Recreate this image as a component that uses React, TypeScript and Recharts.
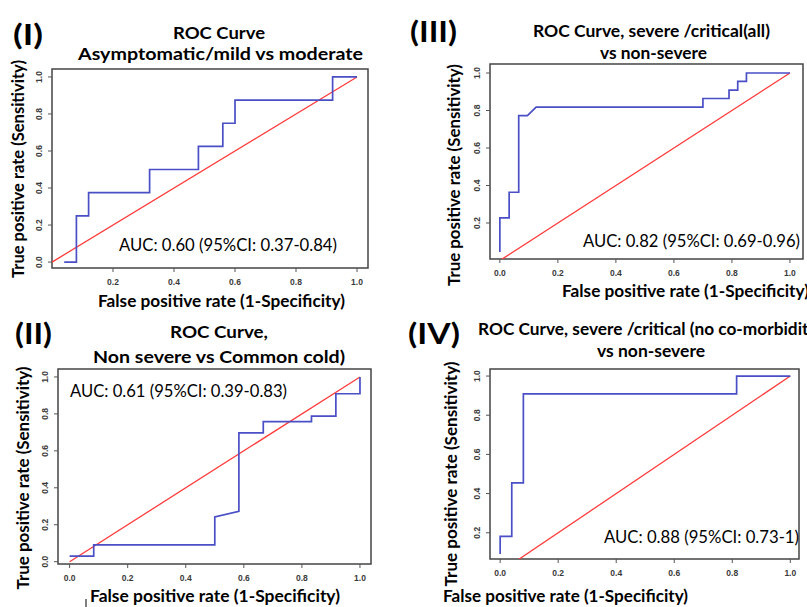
import React from 'react'
import { LineChart, Line, XAxis, YAxis, ReferenceArea } from 'recharts'

// tick labels
const fullTicks = [0, 0.2, 0.4, 0.6, 0.8, 1.0]
const upperTicks = [0.2, 0.4, 0.6, 0.8, 1.0]

// chance diagonal (abline 0,1)
const chanceFpr = [0, 1]
const chanceTpr = [0, 1]

// (I) Asymptomatic/mild vs moderate
const fprI = [0.04, 0.08, 0.08, 0.12, 0.12, 0.32, 0.32, 0.48, 0.48, 0.56, 0.56, 0.6, 0.6, 0.92, 0.92, 1.0]
const tprI = [0, 0, 0.25, 0.25, 0.375, 0.375, 0.5, 0.5, 0.625, 0.625, 0.75, 0.75, 0.875, 0.875, 1.0, 1.0]

// (II) Non severe vs Common cold
const fprII = [0, 0.083, 0.083, 0.5, 0.5, 0.583, 0.583, 0.667, 0.667, 0.833, 0.833, 0.917, 0.917, 1.0, 1.0]
const tprII = [0.03, 0.03, 0.091, 0.091, 0.242, 0.273, 0.697, 0.697, 0.758, 0.758, 0.788, 0.788, 0.909, 0.909, 1.0]

// (III) severe/critical (all) vs non-severe
const fprIII = [0, 0, 0.032, 0.032, 0.065, 0.065, 0.095, 0.125, 0.7, 0.7, 0.79, 0.79, 0.82, 0.82, 0.85, 0.85, 1.0]
const tprIII = [0.045, 0.227, 0.227, 0.364, 0.364, 0.773, 0.773, 0.818, 0.818, 0.864, 0.864, 0.909, 0.909, 0.955, 0.955, 1.0, 1.0]

// (IV) severe/critical (no co-morbidity) vs non-severe
const fprIV = [0, 0, 0.04, 0.04, 0.08, 0.08, 0.815, 0.815, 1.0]
const tprIV = [0.091, 0.182, 0.182, 0.455, 0.455, 0.909, 0.909, 1.0, 1.0]

const toPoints = (xs: number[], ys: number[]) => xs.map((x, i) => ({ x, y: ys[i] }))

const BLUE = '#4a4fc6'
const RED = '#ff3c3c'
const FONT = 'Lato, Carlito, Calibri, sans-serif'
const TICK_FONT = '"Liberation Sans", Arial, sans-serif'

const Y_AXIS_W = 34
const X_AXIS_H = 30
const PAD = 3

function XTick({ x, y, payload }: any) {
  return (
    <text x={x} y={y + 8} textAnchor="middle" dominantBaseline="central"
      fontFamily={TICK_FONT} fontSize={8.5} fontWeight={700} fill="#3a3a3a">
      {Number(payload.value).toFixed(1)}
    </text>
  )
}

function YTick({ x, y, payload }: any) {
  const cx = x - 7
  return (
    <text x={cx} y={y} transform={`rotate(-90 ${cx} ${y})`} textAnchor="middle" dominantBaseline="central"
      fontFamily={TICK_FONT} fontSize={8.5} fontWeight={700} fill="#3a3a3a">
      {Number(payload.value).toFixed(1)}
    </text>
  )
}

interface Box { left: number; top: number; right: number; bottom: number }

interface PanelProps {
  box: Box
  xDomain: [number, number]
  yDomain: [number, number]
  xTicks: number[]
  yTicks: number[]
  fpr: number[]
  tpr: number[]
}

function RocPanel({ box, xDomain, yDomain, xTicks, yTicks, fpr, tpr }: PanelProps) {
  const width = box.right - box.left + Y_AXIS_W + PAD
  const height = box.bottom - box.top + X_AXIS_H + PAD
  return (
    <div style={{ position: 'absolute', left: box.left - Y_AXIS_W, top: box.top - PAD }}>
      <LineChart width={width} height={height} margin={{ top: PAD, right: PAD, bottom: 0, left: 0 }}>
        <XAxis type="number" dataKey="x" domain={xDomain} allowDataOverflow ticks={xTicks} interval={0}
          tick={(p: any) => <XTick {...p} />} tickSize={4} axisLine={false}
          tickLine={{ stroke: '#555' }} height={X_AXIS_H} />
        <YAxis type="number" dataKey="y" domain={yDomain} allowDataOverflow ticks={yTicks} interval={0}
          tick={(p: any) => <YTick {...p} />} tickSize={4} axisLine={false}
          tickLine={{ stroke: '#555' }} width={Y_AXIS_W} />
        <ReferenceArea x1={xDomain[0]} x2={xDomain[1]} y1={yDomain[0]} y2={yDomain[1]}
          fill="none" stroke="#444" strokeWidth={1.5} ifOverflow="visible" />
        <Line data={toPoints(chanceFpr, chanceTpr)} dataKey="y" type="linear" stroke={RED}
          strokeWidth={1.3} dot={false} isAnimationActive={false} />
        <Line data={toPoints(fpr, tpr)} dataKey="y" type="linear" stroke={BLUE}
          strokeWidth={1.7} dot={false} isAnimationActive={false} />
      </LineChart>
    </div>
  )
}

interface TxtProps {
  x: number
  y: number
  w: number
  size: number
  weight?: number
  rotate?: boolean
  anchor?: 'start' | 'middle'
  children: React.ReactNode
}

function Txt({ x, y, w, size, weight = 700, rotate = false, anchor = 'middle', children }: TxtProps) {
  return (
    <text x={x} y={y} textAnchor={anchor} dominantBaseline="central" fontSize={size} fontWeight={weight}
      textLength={w} lengthAdjust="spacingAndGlyphs" fill="#000"
      transform={rotate ? `rotate(-90 ${x} ${y})` : undefined}>
      {children}
    </text>
  )
}

export default function App() {
  return (
    <div style={{ position: 'absolute', left: 0, top: 0, width: 807, height: 607, background: '#fff', overflow: 'hidden', fontFamily: FONT }}>
      <RocPanel box={{ left: 52, top: 69, right: 368, bottom: 268 }} xDomain={[0, 1.036]} yDomain={[-0.032, 1.043]}
        xTicks={upperTicks} yTicks={fullTicks} fpr={fprI} tpr={tprI} />
      <RocPanel box={{ left: 58, top: 369, right: 371, bottom: 564 }} xDomain={[-0.04, 1.038]} yDomain={[-0.0125, 1.043]}
        xTicks={fullTicks} yTicks={fullTicks} fpr={fprII} tpr={tprII} />
      <RocPanel box={{ left: 490, top: 64, right: 803, bottom: 259 }} xDomain={[-0.034, 1.045]} yDomain={[0.008, 1.048]}
        xTicks={fullTicks} yTicks={upperTicks} fpr={fprIII} tpr={tprIII} />
      <RocPanel box={{ left: 490, top: 369, right: 799, bottom: 559 }} xDomain={[-0.035, 1.03]} yDomain={[0.066, 1.036]}
        xTicks={fullTicks} yTicks={upperTicks} fpr={fprIV} tpr={tprIV} />

      <svg width={807} height={607} style={{ position: 'absolute', left: 0, top: 0, pointerEvents: 'none', fontFamily: FONT }}>
        {/* panel labels */}
        <Txt x={28} y={33} w={30} size={29}>(I)</Txt>
        <Txt x={433.5} y={30} w={47} size={29}>(III)</Txt>
        <Txt x={33.5} y={332} w={37} size={29}>(II)</Txt>
        <Txt x={434} y={332} w={52} size={29}>(IV)</Txt>

        {/* titles */}
        <Txt x={219} y={32} w={92} size={17}>ROC Curve</Txt>
        <Txt x={220.5} y={53} w={285} size={17}>Asymptomatic/mild vs moderate</Txt>
        <Txt x={651.5} y={30} w={237} size={17}>ROC Curve, severe /critical(all)</Txt>
        <Txt x={653.5} y={52} w={107} size={17}>vs non-severe</Txt>
        <Txt x={219} y={331} w={98} size={17}>ROC Curve,</Txt>
        <Txt x={219} y={356} w={252} size={17}>Non severe vs Common cold)</Txt>
        <Txt x={478} y={328} w={344} size={17} anchor="start">ROC Curve, severe /critical (no co-morbidity)</Txt>
        <Txt x={651} y={350} w={108} size={17}>vs non-severe</Txt>

        {/* AUC annotations */}
        <Txt x={228} y={244} w={218} size={17} weight={400}>AUC: 0.60 (95%CI: 0.37-0.84)</Txt>
        <Txt x={178.5} y={390} w={217} size={17} weight={400}>AUC: 0.61 (95%CI: 0.39-0.83)</Txt>
        <Txt x={691.5} y={240} w={217} size={17} weight={400}>AUC: 0.82 (95%CI: 0.69-0.96)</Txt>
        <Txt x={701.5} y={536} w={195} size={17} weight={400}>AUC: 0.88 (95%CI: 0.73-1)</Txt>

        {/* y axis titles */}
        <Txt x={17} y={169} w={218} size={17.5} rotate>True positive rate (Sensitivity)</Txt>
        <Txt x={453} y={175} w={222} size={17.5} rotate>True positive rate (Sensitivity)</Txt>
        <Txt x={22} y={478} w={223} size={17.5} rotate>True positive rate (Sensitivity)</Txt>
        <Txt x={450} y={474} w={225} size={17.5} rotate>True positive rate (Sensitivity)</Txt>

        {/* x axis titles */}
        <Txt x={221.5} y={300} w={247} size={17.5}>False positive rate (1-Specificity)</Txt>
        <Txt x={215} y={595} w={250} size={17.5}>False positive rate (1-Specificity)</Txt>
        <Txt x={562} y={290} w={247} size={17.5} anchor="start">False positive rate (1-Specificity)</Txt>
        <Txt x={565.5} y={595} w={245} size={17.5}>False positive rate (1-Specificity)</Txt>

        <line x1={86} y1={599} x2={86} y2={607} stroke="#000" strokeWidth={1} />
      </svg>
    </div>
  )
}
